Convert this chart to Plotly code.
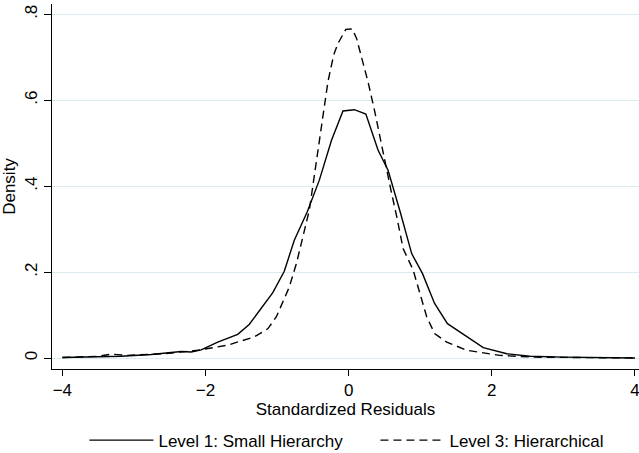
import plotly.graph_objects as go

# Kernel density estimates
x_small = [-4.0, -3.5, -3.18, -2.76, -2.34, -2.2, -2.06, -1.83, -1.55, -1.39, -1.06, -0.90,
           -0.76, -0.58, -0.41, -0.24, -0.08, 0.08, 0.24, 0.41, 0.55, 0.72, 0.88, 1.03,
           1.20, 1.38, 1.88, 2.21, 2.53, 3.0, 3.5, 4.0]
y_small = [0.001, 0.003, 0.004, 0.008, 0.015, 0.014, 0.019, 0.037, 0.055, 0.078, 0.152, 0.202,
           0.274, 0.340, 0.414, 0.507, 0.575, 0.578, 0.568, 0.484, 0.437, 0.340, 0.243, 0.197,
           0.127, 0.080, 0.024, 0.010, 0.004, 0.002, 0.001, 0.000]

x_hier = [-4.0, -3.5, -3.32, -3.1, -2.58, -2.11, -1.69, -1.32, -1.13, -1.01, -0.83, -0.73,
          -0.55, -0.34, -0.29, -0.21, -0.15, -0.04, 0.05, 0.11, 0.20, 0.27, 0.36, 0.48,
          0.60, 0.67, 0.76, 0.90, 1.09, 1.20, 1.37, 1.65, 2.11, 2.6, 3.0, 3.5, 4.0]
y_hier = [0.001, 0.004, 0.009, 0.006, 0.010, 0.018, 0.030, 0.049, 0.068, 0.096, 0.165, 0.220,
          0.344, 0.577, 0.643, 0.705, 0.732, 0.765, 0.766, 0.744, 0.686, 0.643, 0.577, 0.476,
          0.383, 0.330, 0.255, 0.205, 0.096, 0.057, 0.037, 0.018, 0.006, 0.002, 0.001, 0.000, 0.000]

series_names = ["Level 1: Small Hierarchy", "Level 3: Hierarchical"]
x_ticks = [-4, -2, 0, 2, 4]
x_tick_labels = ["\u22124", "\u22122", "0", "2", "4"]
y_ticks = [0, 0.2, 0.4, 0.6, 0.8]
y_tick_labels = ["0", ".2", ".4", ".6", ".8"]

FONT = "Liberation Sans, Arial, sans-serif"
FS = 17

fig = go.Figure()
fig.add_trace(go.Scatter(x=x_small, y=y_small, mode="lines", name=series_names[0],
                         line=dict(color="black", width=1.4, dash="solid")))
fig.add_trace(go.Scatter(x=x_hier, y=y_hier, mode="lines", name=series_names[1],
                         line=dict(color="black", width=1.4, dash="8px,5px")))

fig.update_layout(
    width=639, height=453,
    margin=dict(l=52, r=0, t=4, b=84, autoexpand=False),
    paper_bgcolor="white", plot_bgcolor="white",
    font=dict(family=FONT, size=FS, color="black"),
    showlegend=True,
    legend=dict(orientation="h", x=0.551, xanchor="center", y=-0.196, yanchor="middle",
                font=dict(size=FS), itemwidth=64, bgcolor="rgba(0,0,0,0)",
                entrywidth=212, entrywidthmode="pixels"),
    xaxis=dict(range=[-4.145, 4.056], tickvals=x_ticks, ticktext=x_tick_labels,
               showgrid=False, zeroline=False, showline=True, linecolor="black", linewidth=1,
               ticks="outside", ticklen=6, tickcolor="black", tickfont=dict(size=FS),
               automargin=False, ticklabeloverflow="allow",
               title=dict(text="Standardized Residuals", font=dict(size=FS), standoff=2)),
    yaxis=dict(range=[-0.0256, 0.824], tickvals=y_ticks, ticktext=y_tick_labels,
               showgrid=True, gridcolor="#DAECEF", gridwidth=1, zeroline=False,
               showline=True, linecolor="black", linewidth=1,
               ticks="outside", ticklen=7, tickcolor="black", tickangle=-90,
               tickfont=dict(size=FS), automargin=False,
               title=dict(text="Density", font=dict(size=FS), standoff=4)),
)

fig.write_html("out.html", config={"displayModeBar": False},
               post_script="document.body.style.margin='0';")
